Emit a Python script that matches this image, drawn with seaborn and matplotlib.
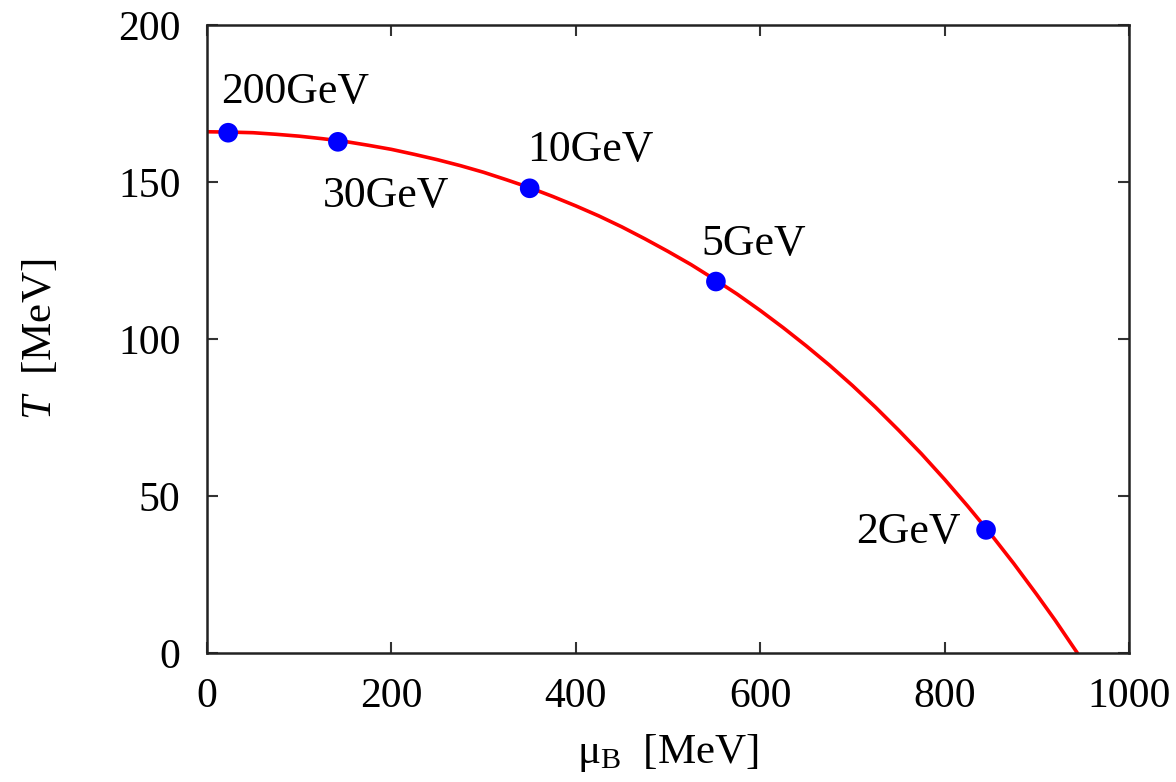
import matplotlib
matplotlib.use("Agg")
import matplotlib.pyplot as plt
import seaborn as sns
import pandas as pd

# Freeze-out curve (mu_B in MeV, T in MeV)
curve_mu = [0, 25, 50, 75, 100, 125, 150, 175, 200, 225, 250, 275, 300,
            325, 350, 375, 400, 425, 450, 475, 500, 525, 550, 575, 600,
            625, 650, 675, 700, 725, 750, 775, 800, 825, 850, 875, 900,
            920, 944]
curve_T = [166.0, 165.9, 165.7, 165.2, 164.6, 163.8, 162.9, 161.7, 160.4,
           158.8, 157.1, 155.2, 153.1, 150.7, 148.2, 145.4, 142.4, 139.2,
           135.7, 131.9, 127.9, 123.7, 119.1, 114.3, 109.1, 103.6, 97.8,
           91.7, 85.2, 78.3, 71.0, 63.4, 55.3, 46.8, 37.9, 28.5, 18.6,
           10.4, 0.0]

# Collision energies
energy_labels = ["200GeV", "30GeV", "10GeV", "5GeV", "2GeV"]
point_mu = [23, 142, 350, 552, 845]
point_T = [165.7, 162.8, 148.0, 118.3, 39.2]
label_mu = [15, 126, 347, 536, 704]
label_T = [175.1, 141.9, 156.7, 126.8, 34.9]

x_ticks = [0, 200, 400, 600, 800, 1000]
y_ticks = [0, 50, 100, 150, 200]

sns.set_theme(style="ticks")
plt.rcParams["font.family"] = ["Liberation Serif", "DejaVu Serif"]
plt.rcParams["mathtext.fontset"] = "custom"
plt.rcParams["mathtext.rm"] = "Liberation Serif"
plt.rcParams["mathtext.it"] = "Liberation Serif:italic"
plt.rcParams["mathtext.bf"] = "Liberation Serif:bold"
plt.rcParams["text.color"] = "black"
plt.rcParams["axes.labelcolor"] = "black"
plt.rcParams["xtick.labelcolor"] = "black"
plt.rcParams["ytick.labelcolor"] = "black"

FS_TICK = 30
FS_ANN = 31.5
FS_LAB = 31

fig = plt.figure(figsize=(11.76, 7.82), dpi=100)
ax = fig.add_axes([0.176, 0.165, 0.784, 0.803])

curve_df = pd.DataFrame({"mu": curve_mu, "T": curve_T})
pts_df = pd.DataFrame({"mu": point_mu, "T": point_T, "label": energy_labels})

sns.lineplot(data=curve_df, x="mu", y="T", ax=ax, color="#ff0000",
             linewidth=2.6, sort=False, zorder=2)
sns.scatterplot(data=pts_df, x="mu", y="T", ax=ax, color="#0000ff",
                s=200, edgecolor="none", zorder=3)

for lab, xm, yt in zip(energy_labels, label_mu, label_T):
    ax.text(xm, yt, lab, fontsize=FS_ANN, ha="left", va="baseline",
            color="black")

ax.set_xlim(0, 1000)
ax.set_ylim(0, 200)
ax.set_xticks(x_ticks)
ax.set_yticks(y_ticks)
ax.tick_params(direction="in", length=8, width=1.5, top=True, right=True,
               labelsize=FS_TICK, color="#333333", labelcolor="black")
ax.tick_params(axis="x", pad=18)
ax.tick_params(axis="y", pad=19)
for sp in ax.spines.values():
    sp.set_linewidth(1.8)
    sp.set_color("#222222")
    sp.set_visible(True)

ax.set_xlabel("μ$_\\mathrm{B}$  [MeV]", fontsize=FS_LAB, labelpad=11,
              color="black")
ax.set_ylabel("$T$  [MeV]", fontsize=FS_LAB, labelpad=42, color="black")

fig.savefig("out.png", dpi=100)
